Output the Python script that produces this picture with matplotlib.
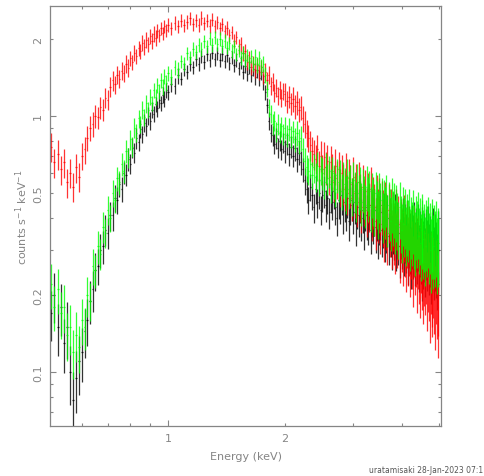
import numpy as np
import matplotlib
matplotlib.use("Agg")
import matplotlib.pyplot as plt
from matplotlib.ticker import FixedLocator, FuncFormatter

# bin centres (keV): soft band, middle band, hard band
e_soft = [0.50, 0.51, 0.52, 0.53, 0.54, 0.55, 0.56, 0.57, 0.58, 0.59,
          0.60, 0.61, 0.62, 0.63, 0.64, 0.65, 0.66, 0.67, 0.68, 0.69,
          0.70, 0.71, 0.72, 0.73, 0.74, 0.75, 0.76, 0.77, 0.78, 0.79,
          0.80, 0.81, 0.82, 0.83, 0.84, 0.85, 0.86, 0.87, 0.88, 0.89,
          0.90, 0.91, 0.92, 0.93, 0.94, 0.95, 0.96, 0.97, 0.98, 0.99]
e_mid = [1.00, 1.02, 1.04, 1.06, 1.08, 1.10, 1.12, 1.14, 1.16, 1.18,
         1.20, 1.22, 1.24, 1.26, 1.28, 1.30, 1.32, 1.34, 1.36, 1.38,
         1.40, 1.42, 1.44, 1.46, 1.48, 1.50, 1.52, 1.54, 1.56, 1.58,
         1.60, 1.62, 1.64, 1.66, 1.68, 1.70, 1.72, 1.74, 1.76, 1.78,
         1.80, 1.82, 1.84, 1.86, 1.88, 1.90, 1.92, 1.94, 1.96, 1.98]
e_hard = [2.000, 2.025, 2.050, 2.075, 2.100, 2.125, 2.150, 2.175,
          2.200, 2.225, 2.250, 2.275, 2.300, 2.325, 2.350, 2.375,
          2.400, 2.425, 2.450, 2.475, 2.500, 2.525, 2.550, 2.575,
          2.600, 2.625, 2.650, 2.675, 2.700, 2.725, 2.750, 2.775,
          2.800, 2.825, 2.850, 2.875, 2.900, 2.925, 2.950, 2.975,
          3.000, 3.025, 3.050, 3.075, 3.100, 3.125, 3.150, 3.175,
          3.200, 3.225, 3.250, 3.275, 3.300, 3.325, 3.350, 3.375,
          3.400, 3.425, 3.450, 3.475, 3.500, 3.525, 3.550, 3.575,
          3.600, 3.625, 3.650, 3.675, 3.700, 3.725, 3.750, 3.775,
          3.800, 3.825, 3.850, 3.875, 3.900, 3.925, 3.950, 3.975,
          4.000, 4.025, 4.050, 4.075, 4.100, 4.125, 4.150, 4.175,
          4.200, 4.225, 4.250, 4.275, 4.300, 4.325, 4.350, 4.375,
          4.400, 4.425, 4.450, 4.475, 4.500, 4.525, 4.550, 4.575,
          4.600, 4.625, 4.650, 4.675, 4.700, 4.725, 4.750, 4.775,
          4.800, 4.825, 4.850, 4.875, 4.900, 4.925, 4.950, 4.975]

# counts s^-1 keV^-1
black_rate = [
    0.17, 0.20, 0.15, 0.18, 0.13, 0.15, 0.10, 0.078, 0.095, 0.11,
    0.12, 0.145, 0.16, 0.19, 0.21, 0.25, 0.26, 0.30, 0.31, 0.36,
    0.35, 0.41, 0.41, 0.48, 0.47, 0.54, 0.52, 0.60, 0.59, 0.68,
    0.65, 0.75, 0.72, 0.82, 0.79, 0.89, 0.85, 0.94, 0.91, 1.00,
    0.96, 1.06, 1.02, 1.11, 1.07, 1.16, 1.12, 1.21, 1.17, 1.26,
    1.24, 1.33, 1.31, 1.44, 1.40, 1.52, 1.49, 1.60, 1.55, 1.67,
    1.60, 1.71, 1.63, 1.75, 1.66, 1.77, 1.67, 1.76, 1.66, 1.75,
    1.64, 1.73, 1.61, 1.70, 1.58, 1.66, 1.54, 1.62, 1.49, 1.57,
    1.46, 1.55, 1.44, 1.52, 1.42, 1.51, 1.41, 1.48, 1.36, 1.24,
    1.10, 0.96, 0.86, 0.84, 0.78, 0.82, 0.75, 0.80, 0.74, 0.79,
    0.73, 0.78, 0.71, 0.76, 0.70, 0.75, 0.68, 0.72,
    0.66, 0.62, 0.56, 0.52, 0.47, 0.53, 0.49, 0.44,
    0.52, 0.46, 0.50, 0.43, 0.49, 0.51, 0.45, 0.48,
    0.42, 0.49, 0.46, 0.51, 0.44, 0.40, 0.47, 0.45,
    0.49, 0.41, 0.46, 0.43, 0.48, 0.39, 0.45, 0.47,
    0.42, 0.46, 0.38, 0.44, 0.41, 0.47, 0.40, 0.43,
    0.37, 0.44, 0.41, 0.39, 0.45, 0.36, 0.42, 0.40,
    0.43, 0.37, 0.41, 0.35, 0.40, 0.42, 0.36, 0.39,
    0.41, 0.35, 0.38, 0.40, 0.34, 0.39, 0.37, 0.33,
    0.38, 0.36, 0.40, 0.33, 0.37, 0.35, 0.31, 0.37,
    0.34, 0.38, 0.32, 0.36, 0.33, 0.37, 0.30, 0.35,
    0.33, 0.29, 0.35, 0.32, 0.36, 0.30, 0.34, 0.31,
    0.35, 0.29, 0.33, 0.31, 0.27, 0.34, 0.30, 0.32,
    0.28, 0.33, 0.30, 0.34, 0.29, 0.31, 0.27, 0.32,
    0.30, 0.33, 0.28, 0.31, 0.29, 0.26, 0.32, 0.30]
red_rate = [
    0.76, 0.66, 0.71, 0.62, 0.66, 0.55, 0.60, 0.53, 0.63, 0.58,
    0.70, 0.74, 0.82, 0.90, 0.93, 1.00, 0.99, 1.08, 1.06, 1.18,
    1.16, 1.30, 1.38, 1.33, 1.45, 1.40, 1.50, 1.47, 1.60, 1.54,
    1.68, 1.62, 1.77, 1.71, 1.84, 1.79, 1.93, 1.86, 1.99, 1.91,
    2.05, 1.97, 2.10, 2.02, 2.15, 2.07, 2.20, 2.11, 2.24, 2.16,
    2.27, 2.20, 2.31, 2.24, 2.36, 2.26, 2.33, 2.41, 2.28, 2.37,
    2.27, 2.42, 2.30, 2.36, 2.25, 2.38, 2.24, 2.32, 2.20, 2.28,
    2.14, 2.21, 2.07, 2.12, 1.97, 2.03, 1.87, 1.91, 1.76, 1.79,
    1.62, 1.68, 1.55, 1.60, 1.51, 1.58, 1.48, 1.55, 1.43, 1.49,
    1.38, 1.45, 1.31, 1.36, 1.23, 1.29, 1.20, 1.27, 1.18, 1.25,
    1.22, 1.14, 1.19, 1.12, 1.17, 1.09, 1.13, 1.06,
    1.08, 0.98, 0.93, 0.86, 0.82, 0.77, 0.73, 0.71,
    0.68, 0.74, 0.64, 0.70, 0.62, 0.69, 0.63, 0.67,
    0.58, 0.66, 0.61, 0.55, 0.64, 0.57, 0.62, 0.53,
    0.60, 0.55, 0.52, 0.61, 0.50, 0.57, 0.54, 0.48,
    0.58, 0.50, 0.54, 0.46, 0.55, 0.49, 0.44, 0.53,
    0.47, 0.51, 0.43, 0.49, 0.45, 0.52, 0.42, 0.47,
    0.44, 0.39, 0.48, 0.42, 0.46, 0.38, 0.45, 0.41,
    0.36, 0.44, 0.40, 0.35, 0.43, 0.38, 0.41, 0.34,
    0.40, 0.36, 0.33, 0.41, 0.35, 0.38, 0.31, 0.37,
    0.34, 0.30, 0.38, 0.33, 0.29, 0.36, 0.31, 0.34,
    0.28, 0.33, 0.30, 0.26, 0.34, 0.29, 0.31, 0.25,
    0.31, 0.27, 0.24, 0.30, 0.26, 0.29, 0.23, 0.27,
    0.25, 0.28, 0.22, 0.26, 0.24, 0.20, 0.26, 0.23,
    0.21, 0.25, 0.22, 0.19, 0.24, 0.21, 0.18, 0.22]
green_rate = [
    0.22, 0.18, 0.21, 0.17, 0.18, 0.14, 0.15, 0.12, 0.14, 0.125,
    0.16, 0.15, 0.20, 0.19, 0.26, 0.25, 0.31, 0.29, 0.37, 0.35,
    0.43, 0.40, 0.50, 0.47, 0.57, 0.55, 0.65, 0.61, 0.73, 0.69,
    0.81, 0.76, 0.90, 0.86, 0.98, 0.93, 1.06, 0.99, 1.12, 1.06,
    1.19, 1.12, 1.26, 1.19, 1.32, 1.25, 1.38, 1.30, 1.43, 1.35,
    1.47, 1.42, 1.55, 1.52, 1.64, 1.60, 1.76, 1.70, 1.83, 1.78,
    1.90, 1.83, 1.96, 1.87, 2.01, 1.90, 2.03, 1.91, 2.00, 1.88,
    1.97, 1.85, 1.92, 1.80, 1.87, 1.74, 1.81, 1.69, 1.77, 1.66,
    1.73, 1.62, 1.71, 1.60, 1.70, 1.59, 1.68, 1.56, 1.60, 1.45,
    1.28, 1.08, 1.02, 0.93, 0.96, 0.87, 0.93, 0.86, 0.91, 0.85,
    0.90, 0.84, 0.89, 0.83, 0.87, 0.81, 0.86, 0.80,
    0.82, 0.74, 0.67, 0.63, 0.61, 0.65, 0.59, 0.63,
    0.58, 0.64, 0.56, 0.62, 0.60, 0.55, 0.63, 0.57,
    0.61, 0.54, 0.60, 0.56, 0.52, 0.59, 0.55, 0.58,
    0.51, 0.57, 0.54, 0.50, 0.58, 0.52, 0.55, 0.49,
    0.56, 0.51, 0.47, 0.55, 0.50, 0.53, 0.46, 0.52,
    0.49, 0.45, 0.53, 0.48, 0.51, 0.44, 0.50, 0.47,
    0.43, 0.50, 0.46, 0.42, 0.49, 0.45, 0.47, 0.41,
    0.46, 0.43, 0.48, 0.40, 0.45, 0.42, 0.39, 0.46,
    0.41, 0.44, 0.38, 0.43, 0.40, 0.37, 0.44, 0.39,
    0.36, 0.42, 0.38, 0.41, 0.35, 0.39, 0.37, 0.41,
    0.34, 0.38, 0.36, 0.40, 0.35, 0.33, 0.38, 0.36,
    0.39, 0.34, 0.37, 0.32, 0.36, 0.38, 0.33, 0.35,
    0.31, 0.36, 0.34, 0.37, 0.32, 0.35, 0.30, 0.34,
    0.36, 0.31, 0.34, 0.32, 0.35, 0.30, 0.33, 0.32]

# 1-sigma errors in percent of the rate
black_err_soft = [
    22, 22, 23, 23, 24, 25, 26, 28, 27, 26,
    24, 22, 21, 19, 18, 17, 16, 15, 15, 14,
    14, 13, 13, 12, 12, 11, 11, 10, 10, 10,
    9, 9, 9, 9, 8, 8, 8, 8, 8, 8,
    8, 7, 7, 7, 7, 7, 7, 7, 7, 7]
green_err_soft = [
    20, 20, 20, 21, 21, 21, 22, 22, 22, 21,
    20, 19, 18, 17, 16, 15, 15, 14, 14, 13,
    13, 12, 12, 11, 11, 11, 10, 10, 10, 9,
    9, 9, 9, 8, 8, 8, 8, 8, 8, 7,
    7, 7, 7, 7, 7, 7, 7, 7, 7, 7]
bg_err_rest = [
    7, 7, 7, 7, 6, 6, 6, 6, 6, 6,
    6, 6, 6, 6, 6, 6, 6, 6, 6, 6,
    6, 6, 6, 6, 6, 6, 6, 6, 6, 6,
    6, 6, 6, 6, 7, 7, 7, 7, 7, 7,
    7, 8, 8, 9, 9, 9, 9, 9, 9, 9,
    10, 10, 10, 10, 10, 11, 11, 11,
    11, 11, 12, 12, 12, 12, 12, 13,
    13, 13, 13, 13, 14, 14, 14, 14,
    14, 15, 15, 15, 15, 15, 16, 16,
    16, 16, 16, 17, 17, 17, 17, 17,
    18, 18, 18, 18, 18, 19, 19, 19,
    19, 19, 20, 20, 20, 20, 20, 21,
    21, 21, 21, 21, 22, 22, 22, 22,
    22, 23, 23, 23, 23, 23, 24, 24,
    24, 24, 24, 25, 25, 25, 25, 25,
    26, 26, 26, 26, 26, 27, 27, 27,
    27, 27, 28, 28, 28, 28, 28, 29,
    29, 29, 29, 29, 30, 30, 30, 30,
    30, 31, 31, 31, 31, 31, 32, 32,
    32, 32, 32, 33, 33, 33, 33, 33]
red_err = [
    13, 13, 13, 13, 13, 13, 13, 13, 13, 13,
    12, 12, 11, 11, 11, 10, 10, 10, 10, 9,
    9, 9, 9, 8, 8, 8, 8, 8, 8, 8,
    7, 7, 7, 7, 7, 7, 7, 7, 7, 7,
    7, 7, 7, 7, 6, 6, 6, 6, 6, 6,
    6, 6, 6, 6, 6, 6, 6, 6, 6, 6,
    6, 6, 6, 6, 6, 6, 6, 6, 6, 6,
    6, 6, 6, 6, 6, 6, 7, 7, 7, 7,
    7, 7, 7, 7, 7, 7, 7, 7, 7, 8,
    8, 8, 8, 8, 8, 8, 8, 8, 8, 8,
    10, 10, 10, 10, 11, 11, 11, 11,
    11, 12, 12, 12, 12, 13, 13, 13,
    13, 14, 14, 14, 14, 15, 15, 15,
    15, 16, 16, 16, 16, 17, 17, 17,
    17, 18, 18, 18, 18, 19, 19, 19,
    19, 20, 20, 20, 20, 21, 21, 21,
    21, 21, 22, 22, 22, 22, 23, 23,
    23, 23, 23, 24, 24, 24, 24, 25,
    25, 25, 25, 25, 26, 26, 26, 26,
    26, 27, 27, 27, 27, 28, 28, 28,
    28, 28, 29, 29, 29, 29, 30, 30,
    30, 30, 30, 31, 31, 31, 31, 32,
    32, 32, 32, 32, 33, 33, 33, 33,
    33, 34, 34, 34, 34, 35, 35, 35,
    35, 35, 36, 36, 36, 36, 37, 37]

grey = "#858585"

fig = plt.figure(figsize=(4.84, 4.77), dpi=100)
ax = fig.add_axes([50 / 484, 1 - 427 / 477, 391 / 484, 420 / 477])
ax.set_xscale("log")
ax.set_yscale("log")

e = np.array(e_soft + e_mid + e_hard)
half_bin = np.gradient(e) * 0.3

spectra = [(black_rate, black_err_soft + bg_err_rest, "black"),
           (red_rate, red_err, "#ff0000"),
           (green_rate, green_err_soft + bg_err_rest, "#00ff00")]
for rate, err, col in spectra:
    r = np.array(rate)
    dr = r * np.array(err) / 100.0
    ax.errorbar(e, r, yerr=dr, xerr=half_bin, fmt="none", ecolor=col,
                elinewidth=0.9, alpha=0.8, capsize=0)

ax.set_xlim(0.497, 5.05)
ax.set_ylim(0.0615, 2.69)

# PGPLOT style ticks: long ones at decades, labels also on 2 and 5
ax.xaxis.set_major_locator(FixedLocator([1]))
ax.xaxis.set_minor_locator(FixedLocator([0.6, 0.7, 0.8, 0.9, 2, 3, 4, 5]))
ax.yaxis.set_major_locator(FixedLocator([0.1, 1]))
ax.yaxis.set_minor_locator(FixedLocator([0.07, 0.08, 0.09, 0.2, 0.3, 0.4, 0.5,
                                         0.6, 0.7, 0.8, 0.9, 2]))
ax.xaxis.set_major_formatter(FuncFormatter(lambda v, p: "%g" % v))
ax.xaxis.set_minor_formatter(FuncFormatter(lambda v, p: "2" if abs(v - 2) < 1e-6 else ""))
ax.yaxis.set_major_formatter(FuncFormatter(lambda v, p: "%g" % v))
ax.yaxis.set_minor_formatter(FuncFormatter(
    lambda v, p: "%g" % v if min(abs(v - t) for t in (0.2, 0.5, 2)) < 1e-6 else ""))

ax.tick_params(which="both", direction="in", top=True, right=True,
               color=grey, labelcolor=grey, labelsize=8)
ax.tick_params(which="major", length=4.5, width=0.8)
ax.tick_params(which="minor", length=2.5, width=0.8)
ax.tick_params(axis="x", which="both", pad=5)
ax.tick_params(axis="y", which="both", pad=5, labelrotation=90)
for lbl in ax.get_yticklabels(which="both"):
    lbl.set_va("center")

for s in ax.spines.values():
    s.set_color(grey)
    s.set_linewidth(0.9)

ax.set_xlabel("Energy (keV)", color=grey, fontsize=8, labelpad=6)
ax.set_ylabel("counts s$^{-1}$ keV$^{-1}$", color=grey, fontsize=8, labelpad=2)

# the plot stamp runs off the page in the original; keep what is visible
fig.text(483 / 484, 1 - 471 / 477, "uratamisaki 28-Jan-2023 07:1",
         color="#555555", fontsize=5.5, ha="right", va="center")

fig.savefig("out.png", dpi=100)
